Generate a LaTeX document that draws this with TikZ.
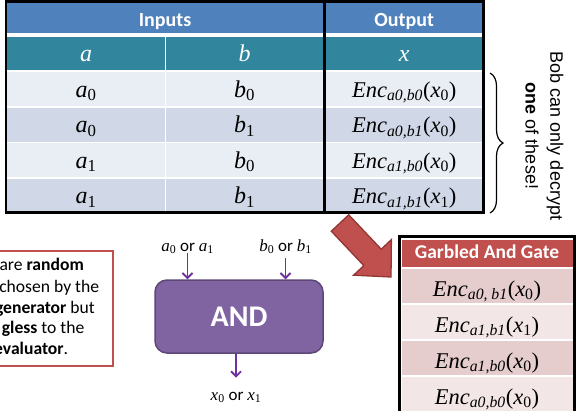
\RequirePackage{fix-cm}
\documentclass[tikz,border=0pt]{standalone}
\usepackage{fontspec}
\setmainfont{Carlito}
\newfontfamily\bobfont{Liberation Sans}
\newfontfamily\varf{Liberation Serif}
\usetikzlibrary{arrows.meta,decorations.pathreplacing}
\definecolor{hdrblue}{HTML}{4F81BD}
\definecolor{hdrteal}{HTML}{31859C}
\definecolor{rowlight}{HTML}{E9EDF4}
\definecolor{rowdark}{HTML}{D0D8E8}
\definecolor{garbred}{HTML}{C0504D}
\definecolor{pinkdark}{HTML}{E6CDCD}
\definecolor{pinklight}{HTML}{F2E6E6}
\definecolor{andfill}{HTML}{8064A2}
\definecolor{anddraw}{HTML}{5C4776}
\definecolor{wirepurple}{HTML}{7030A0}
\definecolor{arrowdark}{HTML}{943634}
\newcommand{\fsz}[1]{\fontsize{#1}{#1}\selectfont}
% italic variable and its subscript
\newcommand{\vv}[1]{{\varf\itshape #1}}
\newcommand{\vs}[1]{\textsubscript{\varf #1}}
\newcommand{\encv}[3]{\vv{Enc}\vs{\itshape #1}{\varf(}\vv{x}\vs{#2}{\varf)}#3}
\begin{document}
\begin{tikzpicture}[x=1pt,y=-1pt,
  cell/.style={anchor=north west, inner sep=0pt, outer sep=0pt},
  hdr/.style={cell, text=white, font=\fsz{20}\bfseries, text height=22.7pt, text depth=7pt},
  thd/.style={cell, text=white, font=\fsz{24}, text height=24.3pt, text depth=9pt},
  dat/.style={cell, font=\fsz{24}, text height=25pt, text depth=8.8pt},
  enc/.style={cell, font=\fsz{22.5}, text height=25pt, text depth=8.8pt},
  ghdr/.style={cell, text=white, font=\fsz{19.5}\bfseries, text height=18.5pt, text depth=8.5pt},
  gdat/.style={cell, font=\fsz{22.5}, text height=27.7pt, text depth=6.8pt},
  lbl/.style={inner sep=0pt, font=\fsz{17}},
  notetxt/.style={inner sep=0pt, font=\fsz{17.6}, anchor=base east},
  bobtxt/.style={inner sep=0pt, rotate=-90, font=\bobfont\fsz{18}},
  wire/.style={draw=wirepurple, line width=1.8pt, -{Straight Barb[length=5pt,width=10pt]}},
  bigarrow/.style={fill=garbred, draw=arrowdark, line width=1.3pt, line join=miter}
]
\useasboundingbox (0,0) rectangle (577,410);
\clip (0,0) rectangle (577,410);

% big red arrow
\draw[bigarrow] (348.7,214.8) -- (381.2,249.2) -- (391.4,239.6) -- (391,277)
  -- (353.6,275.2) -- (363.8,265.6) -- (331.3,231.2) -- cycle;

% main table
\fill[white] (6,1.8) rectangle (483.8,212.8);
\node[hdr, fill=hdrblue, minimum width=315.4pt] (inputs) at (7.3,3.3) {Inputs};
\node[hdr, fill=hdrblue, minimum width=156.5pt] (output) at (326,3.3) {Output};
\node[thd, fill=hdrteal, minimum width=157.4pt] (ha) at (7.3,36.7) {\vv{a}};
\node[thd, fill=hdrteal, minimum width=156.4pt] (hb) at (166.3,36.7) {\vv{b}};
\node[thd, fill=hdrteal, minimum width=156.5pt] (hx) at (326,36.7) {\vv{x}};

\node[dat, fill=rowlight, minimum width=157.4pt] (a1) at (7.3,72.3) {\vv{a}\vs{0}};
\node[dat, fill=rowlight, minimum width=156.4pt] (b1) at (166.3,72.3) {\vv{b}\vs{0}};
\node[enc, fill=rowlight, minimum width=156.5pt] (x1) at (326,72.3) {\encv{a0,b0}{0}{}};

\node[dat, fill=rowdark, minimum width=157.4pt] (a2) at (7.3,107.8) {\vv{a}\vs{0}};
\node[dat, fill=rowdark, minimum width=156.4pt] (b2) at (166.3,107.8) {\vv{b}\vs{1}};
\node[enc, fill=rowdark, minimum width=156.5pt] (x2) at (326,107.8) {\encv{a0,b1}{0}{}};

\node[dat, fill=rowlight, minimum width=157.4pt] (a3) at (7.3,143.3) {\vv{a}\vs{1}};
\node[dat, fill=rowlight, minimum width=156.4pt] (b3) at (166.3,143.3) {\vv{b}\vs{0}};
\node[enc, fill=rowlight, minimum width=156.5pt] (x3) at (326,143.3) {\encv{a1,b0}{0}{}};

\node[dat, fill=rowdark, minimum width=157.4pt] (a4) at (7.3,178.8) {\vv{a}\vs{1}};
\node[dat, fill=rowdark, minimum width=156.4pt] (b4) at (166.3,178.8) {\vv{b}\vs{1}};
\node[enc, fill=rowdark, minimum width=156.5pt] (x4) at (326,178.8) {\encv{a1,b1}{1}{}};

\draw[line width=2.8pt] (6,1.8) rectangle (483.8,212.8);
\draw[line width=3.3pt] (324.3,1.8) -- (324.3,212.8);

% brace and remark
\draw[line width=1.2pt, decorate, decoration={brace, amplitude=13pt}] (490,73) -- (490,213);
\node[bobtxt] (bob1) at (555,136) {Bob can only decrypt};
\node[bobtxt] (bob2) at (532,136) {\textbf{one} of these!};

% garbled table
\fill[white] (399.5,236.5) rectangle (574.5,415);
\node[ghdr, fill=garbred, minimum width=171pt] (gh) at (401.5,239.5) {Garbled And Gate};
\node[gdat, fill=pinkdark, minimum width=171pt] (g1) at (401.5,268.5) {\encv{a0, b1}{0}{}};
\node[gdat, fill=pinklight, minimum width=171pt] (g2) at (401.5,304.5) {\encv{a1,b1}{1}{}};
\node[gdat, fill=pinkdark, minimum width=171pt] (g3) at (401.5,340.5) {\encv{a1,b0}{0}{}};
\node[gdat, fill=pinklight, minimum width=171pt] (g4) at (401.5,376.5) {\encv{a0,b0}{0}{}};
\draw[line width=3pt] (399.5,420) -- (399.5,236.5) -- (574.5,236.5) -- (574.5,420);

% AND gate
\node[rounded corners=12pt, fill=andfill, draw=anddraw, line width=1.5pt,
  minimum width=168pt, minimum height=73pt, inner sep=0pt,
  text=white, font=\fsz{30}\bfseries] (and) at (239,316.5) {AND};
\node[lbl, anchor=base] (la) at (187.5,251) {\vv{a}\vs{0} or \vv{a}\vs{1}};
\node[lbl, anchor=base] (lb) at (285.5,251) {\vv{b}\vs{0} or \vv{b}\vs{1}};
\node[lbl, anchor=base] (lx) at (236,400) {\vv{x}\vs{0} or \vv{x}\vs{1}};
\draw[wire] ([yshift=1pt]la.south) -- (la.south |- and.north);
\draw[wire] ([yshift=-4pt]lb.south) -- (lb.south |- and.north);
\draw[wire] (and.south -| lx) -- ([yshift=14pt]lx.north);

% note box
\node[draw=garbred, line width=2pt, fill=white, anchor=north east,
  minimum width=130pt, minimum height=115.1pt, inner sep=0pt] (note) at (113.7,250.2) {};
\node[notetxt] (n1) at (84,270.5) {are \textbf{random}};
\node[notetxt] (n2) at (99.3,292) {chosen by the};
\node[notetxt] (n3) at (95,313) {\textbf{generator} but};
\node[notetxt] (n4) at (84.5,333.5) {\textbf{gless} to the};
\node[notetxt] (n5) at (68.3,354.5) {\textbf{evaluator}.};
\end{tikzpicture}
\end{document}
